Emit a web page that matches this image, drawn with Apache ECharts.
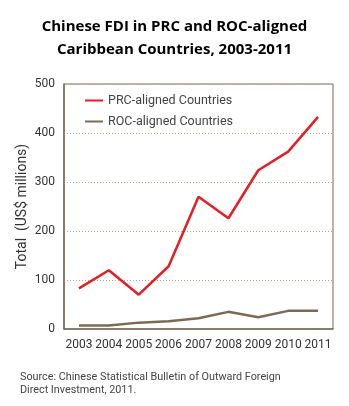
<!DOCTYPE html>
<html><head><meta charset="utf-8">
<script src="https://cdn.jsdelivr.net/npm/echarts@6/dist/echarts.min.js"></script>
<style>html,body{margin:0;padding:0;background:#fff}#c{width:349px;height:406px}</style>
</head><body><div id="c"></div>
<script>
var years = ['2003','2004','2005','2006','2007','2008','2009','2010','2011'];
var prc = [83, 120, 70, 128, 270, 226, 324, 362, 433];
var roc = [7, 7, 13, 16, 22, 35, 24, 37, 37];
var yTicks = {min: 0, max: 500, interval: 100};

var chart = echarts.init(document.getElementById('c'));
chart.setOption({
  animation: false,
  title: [{
    text: 'Chinese FDI in PRC and ROC-aligned\nCaribbean Countries, 2003-2011',
    left: 'center', top: 10,
    textStyle: {fontFamily: 'Open Sans', fontWeight: 'bold', fontSize: 15, lineHeight: 23, color: '#000'}
  }, {
    text: 'Source: Chinese Statistical Bulletin of Outward Foreign\nDirect Investment, 2011.',
    left: 15, top: 366,
    textStyle: {fontFamily: 'Roboto', fontWeight: 'normal', fontSize: 10.8, lineHeight: 13, color: '#444'}
  }],
  legend: {
    left: 80, top: 89, orient: 'vertical', itemGap: 8,
    itemWidth: 18, itemHeight: 12,
    textStyle: {fontFamily: 'Roboto', fontSize: 12.5, color: '#444'},
    data: [{name: 'PRC-aligned Countries', icon: 'path://M0,5L18,5L18,7L0,7Z'},
           {name: 'ROC-aligned Countries', icon: 'path://M0,5L18,5L18,7L0,7Z'}]
  },
  grid: {left: 64, right: 16, top: 84, bottom: 77, show: true, borderColor: '#7a6a5a', borderWidth: 1},
  xAxis: {
    type: 'category', data: years, boundaryGap: true,
    axisLine: {lineStyle: {color: '#7a6a5a', width: 1.5}},
    axisTick: {alignWithLabel: true, interval: 0, length: 4, lineStyle: {color: '#7a6a5a'}},
    axisLabel: {interval: 0, fontFamily: 'Roboto', fontSize: 12, color: '#333', margin: 10}
  },
  yAxis: {
    type: 'value', min: yTicks.min, max: yTicks.max, interval: yTicks.interval,
    name: 'Total  (US$ millions)', nameLocation: 'middle', nameGap: 35, nameMoveOverlap: false,
    nameTextStyle: {fontFamily: 'Roboto', fontSize: 14, color: '#333'},
    axisLine: {show: true, lineStyle: {color: '#7a6a5a', width: 1.5}},
    axisTick: {show: false},
    axisLabel: {fontFamily: 'Roboto', fontSize: 12, color: '#333', margin: 9},
    splitLine: {lineStyle: {color: '#b8a78f', type: [1, 2], width: 1}}
  },
  series: [{
    name: 'PRC-aligned Countries', type: 'line', data: prc, symbol: 'none',
    lineStyle: {color: '#e31e24', width: 2.5}, itemStyle: {color: '#e31e24'}
  }, {
    name: 'ROC-aligned Countries', type: 'line', data: roc, symbol: 'none',
    lineStyle: {color: '#7b6a55', width: 2.5}, itemStyle: {color: '#7b6a55'}
  }]
});
</script></body></html>
